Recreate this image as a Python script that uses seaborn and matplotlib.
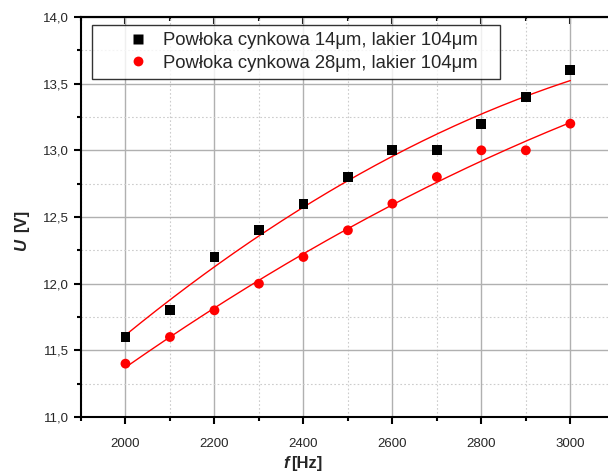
import numpy as np
import pandas as pd
import seaborn as sns
import matplotlib.pyplot as plt
from matplotlib.ticker import MultipleLocator

# dane pomiarowe
freq = [2000, 2100, 2200, 2300, 2400, 2500, 2600, 2700, 2800, 2900, 3000]
u_14 = [11.6, 11.8, 12.2, 12.4, 12.6, 12.8, 13.0, 13.0, 13.2, 13.4, 13.6]
u_28 = [11.4, 11.6, 11.8, 12.0, 12.2, 12.4, 12.6, 12.8, 13.0, 13.0, 13.2]
labels = ["Powłoka cynkowa 14μm, lakier 104μm",
          "Powłoka cynkowa 28μm, lakier 104μm"]

sns.set_style("white")
plt.rcParams["font.family"] = ["Liberation Sans", "DejaVu Sans"]

df = pd.DataFrame({"f": freq * 2, "U": u_14 + u_28,
                   "seria": [labels[0]] * len(freq) + [labels[1]] * len(freq)})

fig = plt.figure(figsize=(6.08, 4.73), dpi=100)
ax = fig.add_axes([0.1332, 0.1184, 0.878, 0.8457])

# dopasowanie wielomianem 2 stopnia
ff = np.linspace(min(freq), max(freq), 200)
for u in (u_14, u_28):
    p = np.polyfit(freq, u, 2)
    sns.lineplot(x=ff, y=np.polyval(p, ff), color="red", lw=1, ax=ax, zorder=2)

sns.scatterplot(data=df, x="f", y="U", hue="seria", style="seria",
                palette=["black", "red"], markers=["s", "o"],
                s=50, edgecolor="none", ax=ax, zorder=3)

ax.set_xlim(1900, 3100)
ax.set_ylim(11.0, 14.0)
ax.xaxis.set_major_locator(MultipleLocator(200))
ax.xaxis.set_minor_locator(MultipleLocator(100))
ax.yaxis.set_major_locator(MultipleLocator(0.5))
ax.yaxis.set_minor_locator(MultipleLocator(0.25))
ax.yaxis.set_major_formatter(lambda v, pos: f"{v:.1f}".replace(".", ","))

ax.grid(which="major", color="#b0b0b0", lw=1)
ax.grid(which="minor", color="#cccccc", lw=0.8, ls=(0, (1.5, 2)))
ax.set_axisbelow(True)

for s in ["left", "bottom", "top"]:
    ax.spines[s].set_color("black")
    ax.spines[s].set_linewidth(1.5)
ax.spines["right"].set_visible(False)
ax.tick_params(which="both", direction="out", color="black", width=1.5,
               labelsize=9.5, bottom=True, left=True, top=False, right=False)
ax.tick_params(which="major", length=5)
ax.tick_params(which="minor", length=3)
ax.tick_params(axis="x", which="major", pad=10)

# gorna os - ticki do srodka
top = ax.secondary_xaxis("top")
top.xaxis.set_major_locator(MultipleLocator(200))
top.xaxis.set_minor_locator(MultipleLocator(100))
top.tick_params(which="both", direction="in", color="black", width=1.5,
                labeltop=False)
top.tick_params(which="major", length=5)
top.tick_params(which="minor", length=3)
top.spines["top"].set_linewidth(1.5)

ax.set_xlabel("")
ax.set_ylabel("")
fig.text(0.466, 0.021, "f", fontsize=12, fontweight="bold", style="italic",
         va="center")
fig.text(0.479, 0.021, "[Hz]", fontsize=12, fontweight="bold", va="center")
fig.text(0.035, 0.483, "U", fontsize=12, fontweight="bold", style="italic",
         rotation=90, ha="center", va="center")
fig.text(0.035, 0.533, "[V]", fontsize=12, fontweight="bold",
         rotation=90, ha="center", va="center")

leg = ax.legend(loc="upper left", bbox_to_anchor=(0.0206, 0.98, 0.764, 0.0),
                mode="expand", frameon=True,
                fancybox=False, edgecolor="black", fontsize=13.3,
                handlelength=4.2, handletextpad=-0.75, borderpad=0.4,
                labelspacing=0.3, borderaxespad=0, markerscale=1.0)
leg.get_frame().set_linewidth(1.0)

fig.savefig("out.png", dpi=100)
